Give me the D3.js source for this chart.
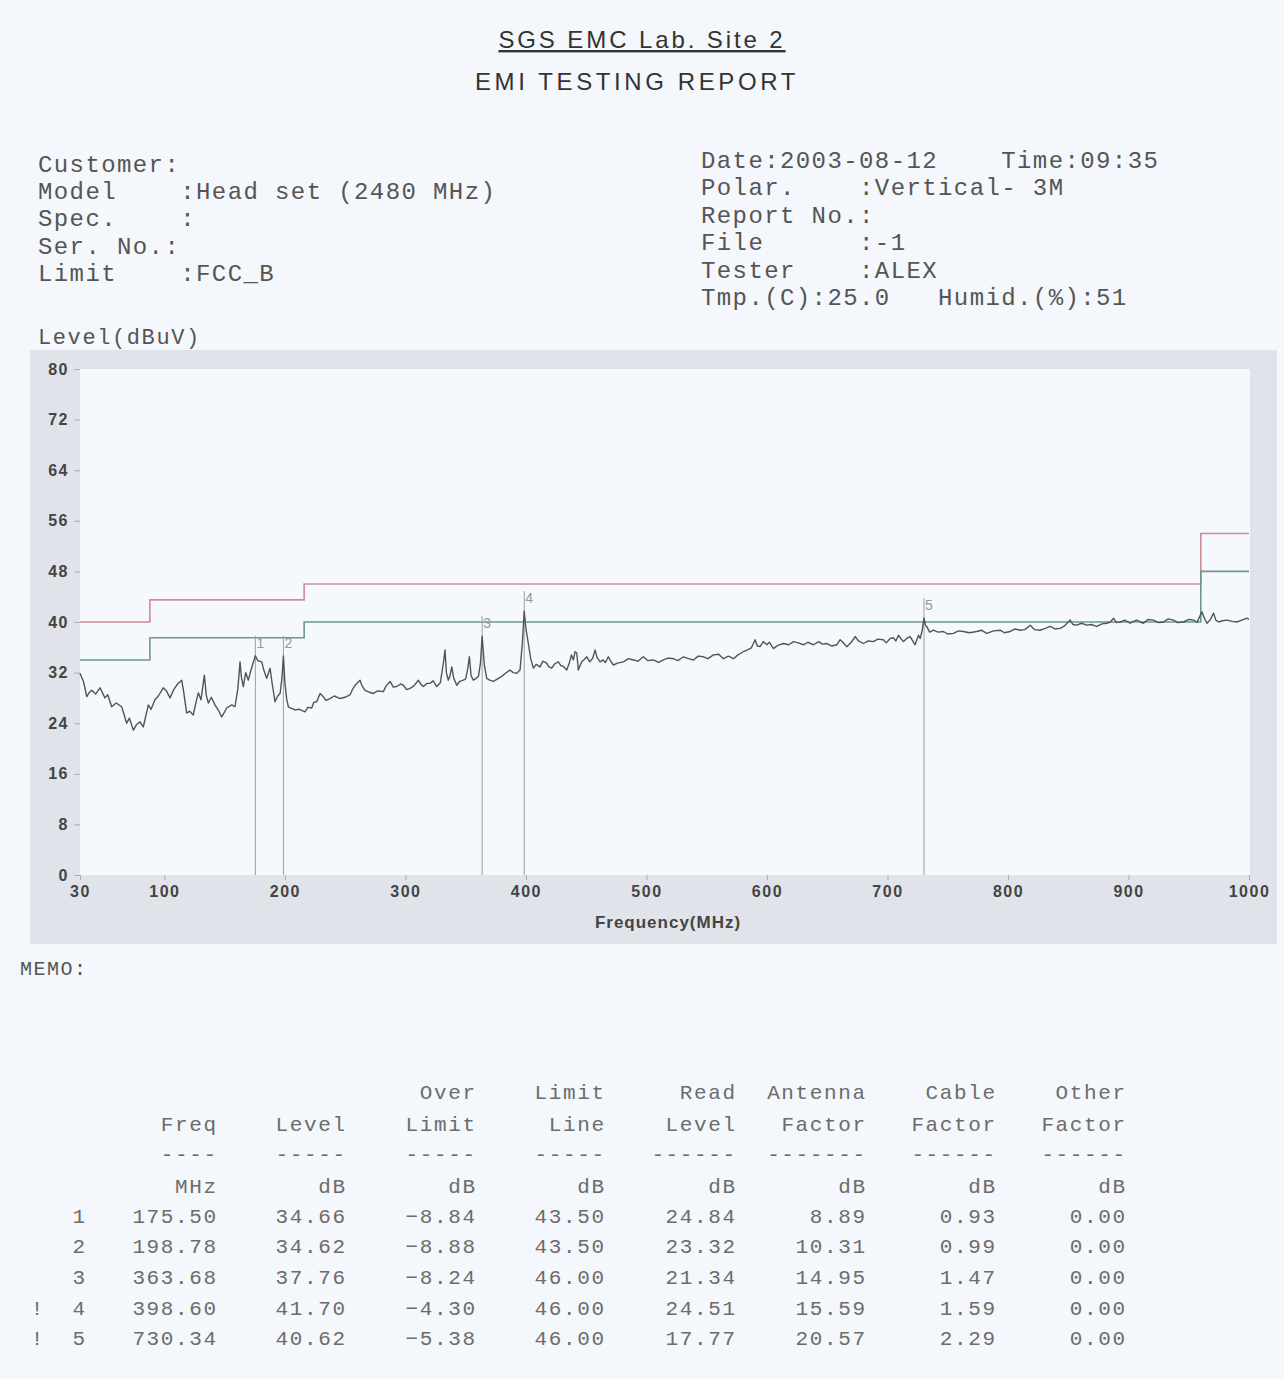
<!DOCTYPE html>
<html>
<head>
<meta charset="utf-8">
<script src="https://cdn.jsdelivr.net/npm/d3@7"></script>
<style>
  body { margin: 0; background: #f4f7fb; }
  svg text { white-space: pre; }
  .mono { font-family: "Liberation Mono", "DejaVu Sans Mono", monospace; }
  .sans { font-family: "Liberation Sans", Arial, sans-serif; }
</style>
</head>
<body>
<div id="chart"></div>
<script>
// header lines
const headLeft = ["Customer:", "Model    :Head set (2480 MHz)", "Spec.    :", "Ser. No.:", "Limit    :FCC_B"];
const headRight = ["Date:2003-08-12    Time:09:35", "Polar.    :Vertical- 3M", "Report No.:", "File      :-1", "Tester    :ALEX", "Tmp.(C):25.0   Humid.(%):51"];

// axes
const xTicks = [30, 100, 200, 300, 400, 500, 600, 700, 800, 900, 1000];
const yTicks = [0, 8, 16, 24, 32, 40, 48, 56, 64, 72, 80];

// limit lines (FCC class B, 3m) and the -6 dB margin line
const limitFreq = [30, 88, 216, 960, 1000];
const limitLevel = [40, 43.5, 46, 54, 54];
const marginLevel = [34, 37.5, 40, 48, 48];

const traceFreq = [30,33,35.6,37.5,39.7,43,46.6,50.7,53,56.3,60,64.6,68.7,71,74.3,77,79.8,82.5,86.7,89,92.2,95,99.1,102,104.7,108,111,114.4,116,118.5,121,124,126,128.2,130.4,133.2,134.8,136.5,139,142,145,147.6,150,151.7,155.9,158.6,161,162.8,164,165.5,167.5,169.7,172,175.5,177.5,180.8,182.5,184.9,187.7,189.5,191.8,194,196,197.5,198.78,200,201.5,202.9,205,208.4,212,216.7,219,222.3,224,226.4,229.2,231.9,234,237.5,241,245.8,250,254.1,256,258.2,262.4,264,266.5,270,273.4,277,281.7,284,287.3,290,292.8,296,298.3,301,303.9,307,310.8,313,314.9,318,320.5,323,326,329,331.5,332.9,334,335.6,337,338.5,340,342.6,345,348.1,350,351.8,353.1,354.5,356.4,358,360.6,362.3,363.68,365.5,367.5,370,373,376.5,380,383,386.8,389.5,392.4,395.1,397,398.6,400,402,404,406.2,408.5,411.7,414,417.3,419,421.4,424,426.9,429,431,433.9,436,437.8,439.4,440.8,442.2,443.5,446.3,448,450.5,453,455.5,457.4,459,461.5,464,466,468.4,470,472.6,476,480.9,485,489.2,493,497.5,501,505.8,510,514.1,518,522.4,526,530.7,535,539,543,547.3,551,555.6,560,563.9,568,572.2,576,580.4,584,587,590.2,592,594.3,597,599.9,602,605.4,609,613.7,618,622,626,630.3,634,638.6,643,646,649.7,654,658,660.7,663,666.3,670,673.2,676,680,684,688.3,692,696.6,699,702.2,705,707,709.1,711,713.3,716,718.8,721,722.9,725.7,727.1,728.8,730.34,731.5,732.6,735,738.1,742,746.4,750,754.7,759,763,768,774.1,778,782.4,788,793.5,797,801.8,806,810.1,814,818.4,822,826.7,831,835,839,843.3,847,851.6,854,857.1,861,865.4,869,873.7,878,882,885,887.6,890,893.1,897,901.4,904,907,910,912.4,916,920.7,925,929.1,933,937.4,941,945.6,950,954,957,960.9,963,965.1,968,970.6,972.5,974.8,978,981.7,986,990,994,998.3,1000];
const traceLevel = [31.9,30.5,28.2,28.8,29.2,28.6,29.6,28.0,28.5,26.6,27.2,26.6,24.0,24.8,22.9,23.8,24.2,23.4,26.9,26.2,27.7,28.3,29.6,29.0,28.0,29.4,30.2,30.8,29.0,25.6,25.9,25.3,27.1,28.8,27.7,31.6,28.4,27.2,28.1,26.9,26.0,25.0,25.8,26.4,26.9,26.6,29.5,33.7,31.2,29.8,32.0,30.8,32.5,34.66,33.9,33.7,32.4,31.1,32.7,30.2,27.4,28.3,28.7,31.0,34.62,30.5,27.8,26.6,26.4,26.1,26.2,25.8,26.5,26.4,27.3,27.4,28.7,28.2,27.6,27.9,28.3,27.9,28.1,28.5,29.3,30.0,30.8,29.9,29.2,28.9,28.7,29.1,29.0,29.9,30.6,29.7,29.8,30.2,30.0,29.3,29.5,29.9,30.8,30.1,29.8,30.3,30.3,30.7,29.8,30.4,33.5,35.6,32.0,30.8,31.5,32.9,31.2,30.0,30.6,30.8,31.0,32.7,34.5,31.5,30.8,31.0,31.4,33.5,37.76,33.2,31.1,30.8,30.6,31.0,31.4,31.9,32.4,32.0,31.9,32.4,36.5,41.7,39.0,36.6,34.2,32.7,33.3,32.9,33.8,33.5,32.9,32.7,33.4,33.7,33.1,33.0,32.4,33.5,34.8,34.0,35.3,35.1,32.4,33.7,34.0,34.5,33.7,34.3,35.6,34.4,33.7,34.0,33.6,34.5,33.9,33.2,33.5,33.7,34.2,34.0,33.8,34.5,33.9,34.0,33.6,34.0,34.3,34.2,33.9,34.5,34.2,34.0,34.6,34.5,34.2,34.8,34.9,34.2,34.6,34.2,34.8,35.3,35.6,35.9,37.2,36.2,36.1,36.9,36.4,36.8,35.8,36.3,36.6,36.4,36.9,36.7,36.4,36.8,36.4,36.9,36.5,36.6,36.2,36.4,37.2,36.8,36.1,36.8,37.7,37.0,36.6,37.0,36.9,37.3,37.2,36.7,37.4,37.5,37.0,37.9,37.4,36.9,37.4,37.7,37.0,36.4,37.9,37.4,38.6,40.62,39.5,39.3,38.4,38.7,38.4,38.5,38.1,38.2,38.6,38.5,38.3,38.5,38.7,38.2,38.6,38.7,38.3,38.5,38.9,38.7,38.8,39.5,38.8,38.7,39.0,39.3,38.9,39.0,39.4,40.3,39.6,39.5,39.8,39.5,39.6,39.3,39.7,39.8,40.0,40.6,39.9,40.0,40.3,39.8,40.1,40.3,40.0,39.8,40.4,40.3,39.9,40.0,40.5,40.3,39.9,40.0,40.4,40.3,40.0,41.6,40.6,39.8,40.4,41.4,40.3,40.0,40.2,40.3,40.1,40.0,40.3,40.6,40.4];

// marker table
const markNo = ["1", "2", "3", "4", "5"];
const markFlag = ["", "", "", "!", "!"];
const markFreq = [175.50, 198.78, 363.68, 398.60, 730.34];
const markLevel = [34.66, 34.62, 37.76, 41.70, 40.62];
const overLimit = [-8.84, -8.88, -8.24, -4.30, -5.38];
const limitLine = [43.50, 43.50, 46.00, 46.00, 46.00];
const readLevel = [24.84, 23.32, 21.34, 24.51, 17.77];
const antFactor = [8.89, 10.31, 14.95, 15.59, 20.57];
const cableFactor = [0.93, 0.99, 1.47, 1.59, 2.29];
const otherFactor = [0.00, 0.00, 0.00, 0.00, 0.00];

const W = 1284, H = 1379;
const svg = d3.select("#chart").append("svg")
    .attr("width", W)
    .attr("height", H);

svg.append("rect").attr("width", W).attr("height", H).attr("fill", "#f4f7fb");

// title
svg.append("text")
    .attr("class", "sans")
    .attr("x", 642).attr("y", 48)
    .attr("text-anchor", "middle")
    .attr("font-size", 24)
    .attr("letter-spacing", 2.9)
    .attr("fill", "#333")
    .attr("text-decoration", "underline")
    .text("SGS EMC Lab. Site 2");

svg.append("text")
    .attr("class", "sans")
    .attr("x", 637).attr("y", 90)
    .attr("text-anchor", "middle")
    .attr("font-size", 24)
    .attr("letter-spacing", 3.6)
    .attr("fill", "#333")
    .text("EMI TESTING REPORT");

// header blocks
const monoHead = (g, lines, x, y0, step) => {
  g.selectAll(null).data(lines).enter().append("text")
      .attr("class", "mono")
      .attr("x", x)
      .attr("y", (d, i) => y0 + i * step)
      .attr("font-size", 24)
      .attr("letter-spacing", 1.4)
      .attr("fill", "#555")
      .text(d => d);
};
monoHead(svg, headLeft, 38, 172, 27.2);
monoHead(svg, headRight, 701, 168, 27.4);

svg.append("text")
    .attr("class", "mono")
    .attr("x", 38).attr("y", 344)
    .attr("font-size", 22)
    .attr("letter-spacing", 1.6)
    .attr("fill", "#555")
    .text("Level(dBuV)");

// chart panel
svg.append("rect")
    .attr("x", 30).attr("y", 350)
    .attr("width", 1247).attr("height", 594)
    .attr("fill", "#e0e3e9");

let xScale = d3.scaleLinear()
    .domain([30, 1000])
    .range([80, 1249]);

let yScale = d3.scaleLinear()
    .domain([0, 80])
    .range([875, 369]);

svg.append("rect")
    .attr("x", xScale(30)).attr("y", yScale(80))
    .attr("width", xScale(1000) - xScale(30) + 1)
    .attr("height", yScale(0) - yScale(80))
    .attr("fill", "#f5f8fc");

// y axis
let yAxis = svg.append("g")
    .attr("transform", "translate(" + xScale(30) + ",0)")
    .call(d3.axisLeft(yScale).tickValues(yTicks).tickSize(6).tickPadding(5));
yAxis.select(".domain").remove();
yAxis.selectAll(".tick line").attr("stroke", "#aab");
yAxis.selectAll(".tick text")
    .attr("class", "sans")
    .attr("font-size", 16)
    .attr("font-weight", "bold")
    .attr("letter-spacing", 1.5)
    .attr("fill", "#444");

// x axis
let xAxis = svg.append("g")
    .attr("transform", "translate(0," + yScale(0) + ")")
    .call(d3.axisBottom(xScale).tickValues(xTicks).tickFormat(d3.format("d")).tickSize(5).tickPadding(6));
xAxis.select(".domain").remove();
xAxis.selectAll(".tick line").attr("stroke", "#aab");
xAxis.selectAll(".tick text")
    .attr("class", "sans")
    .attr("font-size", 16)
    .attr("font-weight", "bold")
    .attr("letter-spacing", 1.5)
    .attr("fill", "#444");

svg.append("text")
    .attr("class", "sans")
    .attr("x", 668).attr("y", 928)
    .attr("text-anchor", "middle")
    .attr("font-size", 17)
    .attr("font-weight", "bold")
    .attr("letter-spacing", 1)
    .attr("fill", "#444")
    .text("Frequency(MHz)");

// limit lines
const stepLine = d3.line()
    .x(d => xScale(d[0]))
    .y(d => yScale(d[1]))
    .curve(d3.curveStepAfter);

svg.append("path")
    .datum(limitFreq.map((f, i) => [f, limitLevel[i]]))
    .attr("fill", "none")
    .attr("stroke", "#cf8c92")
    .attr("stroke-width", 1.6)
    .attr("d", stepLine);

svg.append("path")
    .datum(limitFreq.map((f, i) => [f, marginLevel[i]]))
    .attr("fill", "none")
    .attr("stroke", "#6f9884")
    .attr("stroke-width", 1.6)
    .attr("d", stepLine);

// marker lines
svg.selectAll(".mark").data(markFreq).enter().append("line")
    .attr("class", "mark")
    .attr("x1", d => xScale(d)).attr("x2", d => xScale(d))
    .attr("y1", (d, i) => yScale(markLevel[i]) - 20)
    .attr("y2", yScale(0))
    .attr("stroke", "#9aa0a8")
    .attr("stroke-width", 1);

svg.selectAll(".markLabel").data(markFreq).enter().append("text")
    .attr("class", "sans")
    .attr("x", d => xScale(d) + 5)
    .attr("y", (d, i) => yScale(markLevel[i]) - 8)
    .attr("text-anchor", "middle")
    .attr("font-size", 14)
    .attr("fill", "#999")
    .text((d, i) => markNo[i]);

// trace
const line = d3.line()
    .x(d => xScale(d[0]))
    .y(d => yScale(d[1]));

svg.append("path")
    .datum(traceFreq.map((f, i) => [f, traceLevel[i]]))
    .attr("fill", "none")
    .attr("stroke", "#50555b")
    .attr("stroke-width", 1.4)
    .attr("stroke-linejoin", "round")
    .attr("d", line);

// memo
svg.append("text")
    .attr("class", "mono")
    .attr("x", 20).attr("y", 975)
    .attr("font-size", 20)
    .attr("letter-spacing", 1.5)
    .attr("fill", "#555")
    .text("MEMO:");

// table
const ls = 1.6;
const colRight = [85, 216, 345, 475, 604, 735, 865, 995, 1125];
const head1 = ["", "", "", "Over", "Limit", "Read", "Antenna", "Cable", "Other"];
const head2 = ["", "Freq", "Level", "Limit", "Line", "Level", "Factor", "Factor", "Factor"];
const head3 = ["", "----", "-----", "-----", "-----", "------", "-------", "------", "------"];
const head4 = ["", "MHz", "dB", "dB", "dB", "dB", "dB", "dB", "dB"];
const fmt = d3.format(".2f");

const tableRows = [head1, head2, head3, head4];
markNo.forEach((n, i) => {
  tableRows.push([n, fmt(markFreq[i]), fmt(markLevel[i]), fmt(overLimit[i]), fmt(limitLine[i]),
    fmt(readLevel[i]), fmt(antFactor[i]), fmt(cableFactor[i]), fmt(otherFactor[i])]);
});
const rowY = [1099, 1131, 1161, 1193, 1223, 1253, 1284, 1315, 1345];

tableRows.forEach((row, r) => {
  svg.selectAll(null).data(row).enter().append("text")
      .attr("class", "mono")
      .attr("x", (d, c) => colRight[c] + ls)
      .attr("y", rowY[r])
      .attr("text-anchor", "end")
      .attr("font-size", 21)
      .attr("letter-spacing", ls)
      .attr("fill", "#6c6c6c")
      .text(d => d);
});

svg.selectAll(".flag").data(markFlag).enter().append("text")
    .attr("class", "mono")
    .attr("x", 37)
    .attr("y", (d, i) => rowY[4 + i])
    .attr("text-anchor", "middle")
    .attr("font-size", 21)
    .attr("fill", "#6c6c6c")
    .text(d => d);
</script>
</body>
</html>
